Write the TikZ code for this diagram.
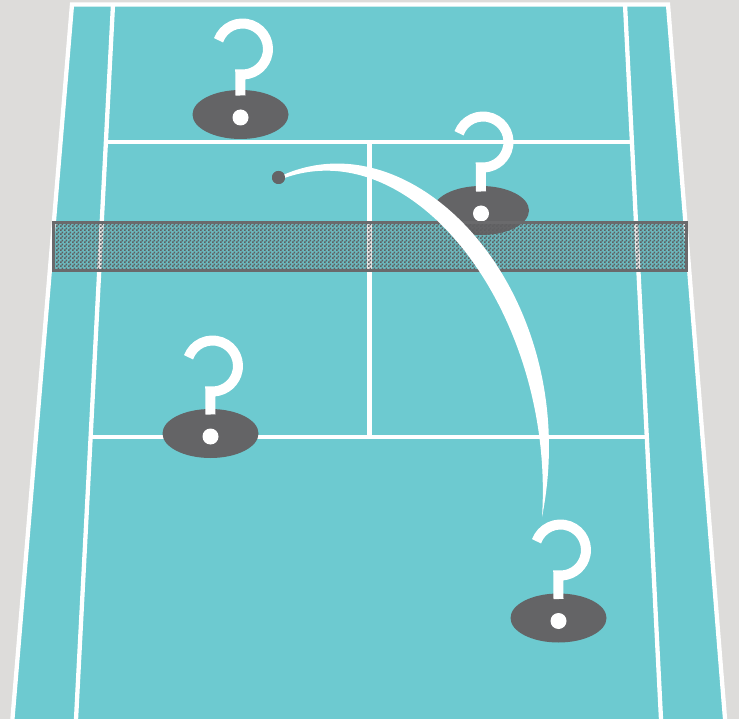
\documentclass[tikz,border=0pt]{standalone}
\usetikzlibrary{patterns,calc}
\definecolor{bg}{HTML}{DDDCDA}
\definecolor{court}{HTML}{6DCAD0}
\definecolor{ovalgray}{HTML}{646466}
\definecolor{netgray}{HTML}{6A6A6C}
\definecolor{netdot}{HTML}{5E5E60}
\pgfdeclarepatternformonly{netcheck}{\pgfpointorigin}{\pgfqpoint{4pt}{4pt}}{\pgfqpoint{4pt}{4pt}}{%
  \pgfpathrectangle{\pgfpointorigin}{\pgfqpoint{2pt}{2pt}}%
  \pgfpathrectangle{\pgfqpoint{2pt}{2pt}}{\pgfqpoint{2pt}{2pt}}%
  \pgfusepath{fill}}
\newcommand\qmark[4]{%
  \fill[ovalgray] (#1,#2) ellipse [x radius=48, y radius=24.5];
  \draw[qhook] (#3,#4) ++(200:25.5) arc[start angle=200, end angle=455, radius=25.5] -- (#1,#2-19);
  \fill[white] (#1,#2+3) circle[radius=8];
}
\begin{document}
\begin{tikzpicture}[x=1pt,y=-1pt,
  courtline/.style={white,line width=4.3pt},
  qhook/.style={white,line width=10pt},
]
\useasboundingbox (0,0) rectangle (739,719);
\clip (0,0) rectangle (739,719);
\fill[bg] (0,0) rectangle (739,719);
% court corners
\coordinate (oTL) at (72,4.5);
\coordinate (oTR) at (668,4.5);
\coordinate (oBL) at (11.1,735);
\coordinate (oBR) at (726.3,735);
\coordinate (sTL) at (113,4.5);
\coordinate (sTR) at (625,4.5);
\coordinate (sBL) at (75.2,735);
\coordinate (sBR) at (661.8,735);
\fill[court] (oTL) -- (oTR) -- (oBR) -- (oBL) -- cycle;
% lines
\draw[courtline, line join=miter] (oBL) -- (oTL) -- (oTR) -- (oBR);
\draw[courtline] (sTL) -- (sBL);
\draw[courtline] (sTR) -- (sBR);
\coordinate (l1L) at ($(sTL)!0.1883!(sBL)$);
\coordinate (l1R) at ($(sTR)!0.1883!(sBR)$);
\coordinate (l2L) at ($(sTL)!0.5921!(sBL)$);
\coordinate (l2R) at ($(sTR)!0.5921!(sBR)$);
\draw[courtline] (l1L) -- (l1R);
\draw[courtline] (l2L) -- (l2R);
\coordinate (cT) at (369.5,141);
\coordinate (cB) at (369.5,437);
\draw[courtline] (cT) -- (cB);
% question marks
\qmark{240.5}{114.5}{242.5}{49}
\qmark{481}{210.5}{483}{142}
\qmark{210.5}{433.5}{212.5}{366}
\qmark{558.5}{618}{560.5}{550}
% net
\fill[netgray, opacity=0.18] (53.5,222.5) rectangle (686,270.5);
\draw[netgray, line width=3pt, pattern=netcheck, pattern color=netdot] (53.5,222.5) rectangle (686,270.5);
% trajectory
\node (ball) [circle, fill=ovalgray, minimum size=13pt, inner sep=0pt] at (278.5,177.5) {};
\fill[white] (283,175) .. controls (420,115) and (585,300) .. (542,517) .. controls (555,315) and (415,130) .. (283,178.5) -- cycle;
\node [circle, fill=ovalgray, minimum size=13pt, inner sep=0pt] at (ball) {};
\end{tikzpicture}
\end{document}
